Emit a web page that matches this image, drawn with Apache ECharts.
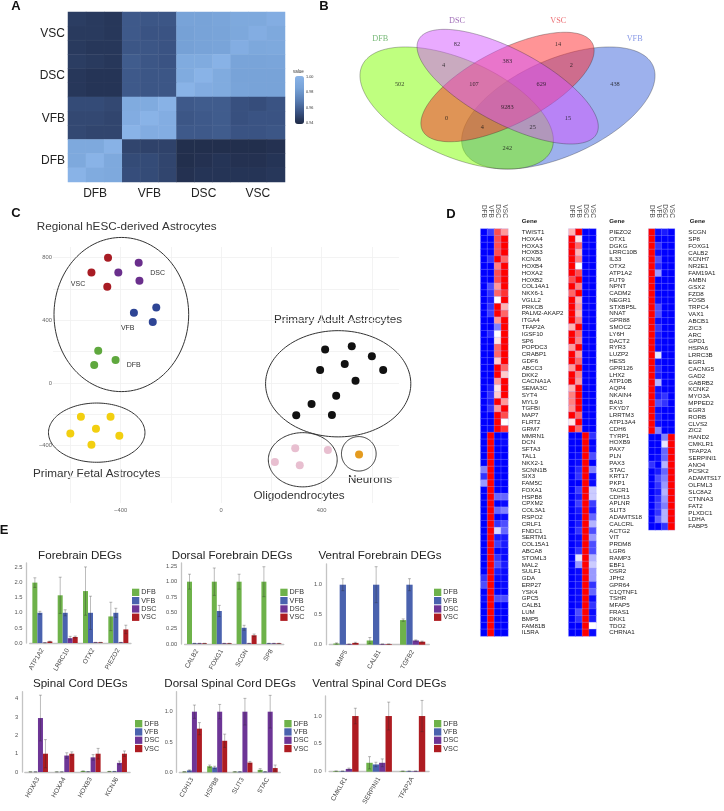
<!DOCTYPE html>
<html>
<head>
<meta charset="utf-8">
<script src="https://cdn.jsdelivr.net/npm/echarts@6/dist/echarts.min.js"></script>
<style>html,body{margin:0;padding:0;background:#fff}#main{width:724px;height:811px}</style>
</head>
<body>
<div id="main"></div>
<script>
var FONT = '"Liberation Sans", Arial, sans-serif';
var SERIF = '"Liberation Serif", serif';

// A: correlation heatmap, rows listed top to bottom
var corrCats = ['', 'DFB', '', '', 'VFB', '', '', 'DSC', '', '', 'VSC', ''];
var corrRowCats = ['', 'DFB', '', '', 'VFB', '', '', 'DSC', '', '', 'VSC', ''];
var corrValues = [
    [.947, .946, .945, .957, .956, .956, .985, .985, .987, .990, .990, .994],
    [.946, .946, .945, .957, .955, .955, .984, .985, .986, .989, .994, .990],
    [.946, .945, .945, .956, .956, .955, .984, .985, .986, .994, .989, .990],
    [.947, .946, .945, .958, .956, .955, .992, .992, .998, .986, .986, .987],
    [.945, .944, .944, .957, .956, .956, .992, .999, .992, .985, .985, .985],
    [.945, .944, .944, .957, .956, .956, .999, .993, .992, .986, .985, .985],
    [.952, .952, .951, .992, .992, .998, .957, .958, .958, .954, .953, .955],
    [.951, .951, .950, .993, .999, .994, .956, .957, .958, .954, .955, .955],
    [.951, .950, .950, .999, .993, .994, .957, .957, .958, .955, .955, .956],
    [.990, .990, .998, .950, .949, .949, .942, .942, .942, .942, .942, .943],
    [.990, .999, .990, .952, .952, .950, .942, .943, .944, .943, .943, .944],
    [.999, .992, .990, .953, .952, .950, .943, .944, .944, .944, .944, .945]
];
var corrTicks = ['1.00', '0.98', '0.96', '0.94'];

// B: venn
var vennNames = ['DFB', 'DSC', 'VSC', 'VFB'];
var vennCounts = [502, 82, 14, 438, 4, 383, 2, 107, 629, 0, 9283, 15, 4, 25, 242];

// C: MDS points
var vscX = [-450, -516, -453], vscY = [800, 706, 614];
var dscX = [-328, -409, -325], dscY = [768, 706, 653];
var vfbX = [-347, -258, -272], vfbY = [448, 482, 390];
var dfbX = [-489, -420, -505], dfbY = [205, 147, 115];
var fetalX = [-558, -440, -498, -600, -405, -516], fetalY = [-215, -215, -292, -322, -337, -394];
var adultX = [414, 520, 600, 492, 394, 645, 535, 458, 360, 299, 441];
var adultY = [213, 235, 171, 122, 83, 83, 15, -81, -134, -206, -204];
var oligoX = [295, 425, 214, 313], oligoY = [-417, -428, -504, -525];
var neuronX = [549], neuronY = [-456];

// D: gene lists and scaled expression (DFB, VFB, DSC, VSC), 0 blue .5 white 1 red
var heatCols = ['DFB', 'VFB', 'DSC', 'VSC'];
var genes1 = ['TWIST1', 'HOXA4', 'HOXA3', 'HOXB3', 'KCNJ6', 'HOXB4', 'HOXA2', 'HOXB2', 'COL14A1', 'NKX6-1', 'VGLL2', 'PRKCB', 'PALM2-AKAP2', 'ITGA4', 'TFAP2A', 'IGSF10', 'SP6', 'POPDC3', 'CRABP1', 'GDF6', 'ABCC3', 'DKK2', 'CACNA1A', 'SEMA3C', 'SYT4', 'MYL9', 'TGFBI', 'MAP7', 'FLRT2', 'GRM7', 'MMRN1', 'DCN', 'SFTA3', 'TAL1', 'NKX2-1', 'SCNN1B', 'SIX3', 'FAM5C', 'FOXA1', 'HSPB8', 'CPXM2', 'COL3A1', 'RSPO2', 'CRLF1', 'FNDC1', 'SERTM1', 'COL15A1', 'ABCA8', 'STOML3', 'MAL2', 'SULF1', 'GDA', 'ERP27', 'YSK4', 'GPC5', 'CALB1', 'LUM', 'BMP5', 'FAM81B', 'IL5RA'];
var heat1 = [
    [0, .12, .85, .7], [0, 0, .85, 1], [0, 0, .85, 1], [0, 0, .85, 1], [0, .1, 1, .8], [0, 0, .75, 1], [0, 0, .85, 1], [0, 0, .85, 1], [0, .15, .7, 1], [0, .1, .8, .9],
    [0, .05, .5, 1], [0, .1, 1, .65], [0, .12, 1, .8], [0, 0, .7, 1], [0, 0, .25, 1], [0, .08, .5, 1], [0, 0, .55, 1], [0, 0, .8, 1], [0, 0, .8, 1], [0, 0, .6, 1],
    [0, 0, 1, .8], [0, 0, 1, .6], [0, 0, .7, 1], [0, .05, .55, 1], [0, .1, .6, 1], [0, .05, 1, .7], [0, .1, .7, 1], [0, 0, 1, .85], [0, 0, 1, .5], [0, .02, 1, .9],
    [0, 1, 0, 0], [0, 1, 0, .02], [0, 1, 0, 0], [0, 1, 0, 0], [0, 1, 0, 0], [.25, 1, 0, 0], [.1, 1, 0, 0], [.3, 1, 0, 0], [0, 1, 0, 0], [0, 1, .2, .2],
    [0, 1, 0, .02], [0, 1, .2, .25], [0, 1, 0, .02], [0, 1, .1, .15], [0, 1, .42, .2], [0, 1, .05, .05], [0, 1, .12, .05], [0, 1, 0, .02], [0, 1, .1, .02], [0, 1, .15, .05],
    [0, 1, .05, .02], [.1, 1, .02, .02], [.15, 1, 0, .02], [0, 1, 0, 0], [.02, 1, .15, .15], [0, 1, 0, 0], [0, 1, 0, 0], [0, 1, 0, 0], [0, 1, 0, 0], [0, 1, 0, 0]
];
var genes2 = ['PIEZO2', 'OTX1', 'DGKG', 'LRRC10B', 'IL33', 'OTX2', 'ATP1A2', 'FUT9', 'NPNT', 'CADM2', 'NEGR1', 'STXBP5L', 'NNAT', 'GPR88', 'SMOC2', 'LY6H', 'DACT2', 'RYR3', 'LUZP2', 'HES5', 'GPR126', 'LHX2', 'ATP10B', 'AQP4', 'NKAIN4', 'BAI3', 'FXYD7', 'LRRTM3', 'ATP13A4', 'CDH6', 'TYRP1', 'HOXB9', 'PAX7', 'PLN', 'PAX3', 'STAC', 'KRT17', 'PKP1', 'TACR1', 'CDH13', 'APLNR', 'SLIT3', 'ADAMTS18', 'CALCRL', 'ACTG2', 'VIT', 'PRDM8', 'LGR6', 'RAMP3', 'EBF1', 'OSR2', 'JPH2', 'GPR64', 'C1QTNF1', 'TSHR', 'MFAP5', 'FRAS1', 'DKK1', 'TDO2', 'CHRNA1'];
var heat2 = [
    [.65, 1, 0, 0], [1, .55, 0, 0], [1, .8, 0, 0], [1, .65, 0, 0], [1, .75, 0, 0], [1, .5, 0, 0], [1, .85, 0, 0], [.85, 1, 0, 0], [1, .75, 0, 0], [.8, 1, 0, 0],
    [1, .65, 0, 0], [1, .7, 0, 0], [1, .65, 0, 0], [1, .75, 0, 0], [.65, 1, 0, 0], [1, .8, 0, 0], [1, .75, 0, 0], [.7, 1, 0, 0], [1, .7, 0, 0], [1, .8, 0, 0],
    [.7, 1, 0, 0], [1, .75, 0, 0], [1, .7, 0, 0], [.65, 1, 0, 0], [.75, 1, 0, 0], [.75, 1, 0, 0], [.72, 1, 0, 0], [1, .8, 0, 0], [.55, 1, 0, 0], [1, .8, 0, 0],
    [0, 0, 1, .1], [0, 0, 1, 0], [0, 0, 1, .02], [0, .02, 1, .15], [0, .02, 1, 0], [0, .08, 1, .25], [0, .1, 1, .02], [0, 0, 1, .02], [0, .12, 1, .4], [0, .05, 1, .4],
    [0, .12, 1, .12], [0, .05, 1, .05], [0, .02, 1, .2], [0, .05, 1, .35], [0, .1, 1, .15], [0, .02, 1, .3], [0, .03, 1, .15], [0, .1, 1, .15], [0, .45, 1, .35], [0, .3, 1, .4],
    [0, .02, 1, .3], [0, .02, 1, .3], [0, .03, 1, .1], [0, .02, 1, .2], [0, .02, 1, .02], [0, .02, 1, .1], [0, .15, 1, .02], [0, .1, 1, .05], [0, 0, 1, .5], [0, 0, 1, .02]
];
var genes3 = ['SCGN', 'SP8', 'FOXG1', 'CALB2', 'KCNH7', 'NR2E1', 'FAM19A1', 'AMBN', 'GSX2', 'FZD8', 'FOSB', 'TRPC4', 'VAX1', 'ABCB1', 'ZIC3', 'ARC', 'GPD1', 'HSPA6', 'LRRC3B', 'EGR1', 'CACNG5', 'GAD2', 'GABRB2', 'KCNK2', 'MYO3A', 'MPPED2', 'EGR3', 'RORB', 'CLVS2', 'ZIC2', 'HAND2', 'CMKLR1', 'TFAP2A', 'SERPINI1', 'ANO4', 'PCSK2', 'ADAMTS17', 'OLFML3', 'SLC8A2', 'CTNNA3', 'FAT2', 'PLXDC1', 'LDHA', 'FABP5'];
var heat3 = [
    [1, .02, .05, 0], [1, 0, 0, 0], [1, .1, 0, 0], [1, .02, 0, 0], [1, .15, 0, 0], [1, .08, 0, 0], [1, .3, 0, 0], [1, 0, 0, 0], [1, 0, 0, 0], [1, 0, 0, 0],
    [1, .02, 0, 0], [1, .15, 0, 0], [1, .15, 0, 0], [1, .02, 0, 0], [1, .1, 0, 0], [1, .05, 0, 0], [1, .02, 0, 0], [1, .02, 0, 0], [1, .45, 0, 0], [1, .02, 0, 0],
    [1, .08, 0, 0], [1, .05, 0, 0], [1, .35, 0, 0], [1, .03, 0, 0], [1, .05, .1, 0], [1, .15, .1, 0], [1, .02, 0, 0], [1, .05, 0, 0], [1, .02, 0, 0], [1, .25, 0, 0],
    [0, 0, .25, 1], [0, 0, .45, 1], [0, 0, .2, 1], [0, .02, .2, 1], [.1, 0, .35, 1], [0, .05, .2, 1], [0, .15, .25, 1], [0, .1, .3, 1], [0, .05, .35, 1], [0, .1, .3, 1],
    [0, .12, .25, 1], [0, .1, .35, 1], [0, .2, .35, 1], [0, 0, .1, 1]
];

// E: bars, one row per condition (DFB, VFB, DSC, VSC), errors are half widths
var forebrainGenes = ['ATP1A2', 'LRRC10', 'OTX2', 'PIEZO2'];
var forebrainVals = [[2, 1.58, 1.72, .88], [1, 1, 1, 1], [.01, .16, .02, .02], [.05, .2, .02, .45]];
var forebrainErr = [[.16, .6, .8, .47], [.05, .1, .55, .15], [0, .06, 0, 0], [.01, .03, 0, .14]];
var dorsalFbGenes = ['CALB2', 'FOXG1', 'SCGN', 'SP8'];
var dorsalFbVals = [[1, 1, 1, 1], [.01, .53, .26, .01], [.01, .01, .01, .01], [.01, .01, .14, .01]];
var dorsalFbErr = [[.12, .22, .12, .24], [0, .09, .04, 0], [0, 0, 0, 0], [0, 0, .02, 0]];
var ventralFbGenes = ['BMP5', 'CALB1', 'TGFB2'];
var ventralFbVals = [[.02, .07, .41], [1, 1, 1], [.01, .01, .07], [.03, .01, .05]];
var ventralFbErr = [[.01, .05, .02], [.1, .3, .1], [0, 0, .01], [.01, 0, .01]];
var spinalGenes = ['HOXA3', 'HOXA4', 'HOXB3', 'KCNJ6'];
var spinalVals = [[.01, .01, .05, .03], [.01, .01, .02, .03], [2.95, .9, .8, .5], [1, 1, 1, 1]];
var spinalErr = [[0, 0, .01, 0], [0, 0, 0, 0], [1.25, .15, .15, .1], [.77, .1, .29, .15]];
var dorsalScGenes = ['CDH13', 'HSPB8', 'SLIT3', 'STAC'];
var dorsalScVals = [[.01, .1, .01, .04], [.03, .08, .01, .01], [1, 1, 1, 1], [.72, .52, .16, .07]];
var dorsalScErr = [[0, .02, 0, .02], [.01, .02, 0, 0], [.11, .12, .22, .27], [.1, .11, .02, .05]];
var ventralScGenes = ['CMKLR1', 'SERPINI1', 'TFAP2A'];
var ventralScVals = [[.01, .16, .01], [.01, .13, .01], [.05, .16, .01], [1, 1, 1]];
var ventralScErr = [[0, .11, 0], [0, .04, 0], [.015, .07, 0], [.14, .25, .28]];
var barColors = ['#6eb24a', '#4a62ae', '#6d3596', '#ae1c22'];

var grid = [], xAxis = [], yAxis = [], series = [], legend = [], visualMap = [], graphic = [];

function addText(text, x, y, size, color, align, weight, family) {
    graphic.push({
        type: 'text', x: x, y: y, silent: true,
        style: {
            text: text, fontSize: size, fill: color || '#222', align: align || 'center', verticalAlign: 'middle',
            fontWeight: weight || 'normal', fontFamily: family || FONT
        }
    });
}

function ellipseItem(stroke, fills) {
    return function (params, api) {
        var cx = api.value(0), cy = api.value(1), a = api.value(2), b = api.value(3), t = api.value(4) * Math.PI / 180;
        var pts = [];
        for (var i = 0; i < 140; i++) {
            var s = i / 140 * Math.PI * 2;
            pts.push(api.coord([
                cx + a * Math.cos(s) * Math.cos(t) - b * Math.sin(s) * Math.sin(t),
                cy + a * Math.cos(s) * Math.sin(t) + b * Math.sin(s) * Math.cos(t)
            ]));
        }
        return {
            type: 'polygon', shape: {points: pts},
            style: {fill: fills ? fills[params.dataIndex] : 'none', stroke: stroke, lineWidth: fills ? .6 : 1}
        };
    };
}

// ---- A
grid.push({left: 68, top: 12, width: 217, height: 170});
xAxis.push({
    type: 'category', gridIndex: 0, data: corrCats, axisLine: {show: false}, axisTick: {show: false},
    axisLabel: {interval: 0, fontSize: 12, color: '#222', margin: 6, fontFamily: FONT}
});
yAxis.push({
    type: 'category', gridIndex: 0, data: corrRowCats, axisLine: {show: false}, axisTick: {show: false},
    axisLabel: {interval: 0, fontSize: 12, color: '#222', margin: 3, fontFamily: FONT}
});
var corrData = [];
corrValues.forEach(function (row, r) {
    row.forEach(function (v, c) { corrData.push([c, 11 - r, v]); });
});
series.push({
    type: 'heatmap', xAxisIndex: 0, yAxisIndex: 0, data: corrData, silent: true,
    itemStyle: {borderColor: 'rgba(255,255,255,.05)', borderWidth: .5}
});
visualMap.push({
    type: 'continuous', seriesIndex: 0, min: .94, max: 1, dimension: 2, show: true, left: 295, top: 76,
    itemWidth: 9, itemHeight: 48, text: null, calculable: false, hoverLink: false, padding: 0,
    inRange: {color: ['#1e2945', '#3a5383', '#5a7fb5', '#78a3d8', '#8ab4e8']}, textStyle: {fontSize: 1, color: 'transparent'}
});
addText('value', 293, 72, 4.5, '#333', 'left');
corrTicks.forEach(function (t, i) { addText(t, 306, 77.3 + i * 15.1, 3.8, '#333', 'left'); });

// ---- B
var venn = grid.length;
grid.push({left: 340, top: 0, width: 384, height: 200});
xAxis.push({type: 'value', gridIndex: venn, min: 0, max: 1152, show: false});
yAxis.push({type: 'value', gridIndex: venn, min: 0, max: 600, inverse: true, show: false});
series.push({
    type: 'custom', xAxisIndex: venn, yAxisIndex: venn, silent: true, clip: false, z: 2,
    renderItem: ellipseItem('rgba(40,40,40,.55)', ['rgba(60,100,220,.5)', 'rgba(127,255,0,.5)', 'rgba(255,42,46,.5)', 'rgba(211,85,255,.5)']),
    data: [[655, 324, 311, 145, -24], [350, 324, 311, 145, 24], [502.5, 261, 286.5, 111.5, -27.2], [503, 260, 302, 111, 27.9]]
});
var vennCountPos = [[179, 254], [351, 133], [654, 133], [825, 254], [311, 197], [502, 184], [694, 197], [402, 254], [604, 254], [320, 356], [502, 323], [684, 356], [427, 382], [578, 382], [502, 445]];
series.push({
    type: 'scatter', xAxisIndex: venn, yAxisIndex: venn, silent: true, symbolSize: 0, z: 3,
    data: vennCounts.map(function (c, i) { return {value: vennCountPos[i], name: String(c)}; }),
    label: {show: true, position: 'inside', formatter: '{b}', fontSize: 6.3, color: '#111', fontFamily: SERIF}
});
var vennNamePos = [[121, 118], [351, 62], [655, 62], [884, 118]];
var vennNameColors = ['#55a855', '#8b4ca8', '#e64a50', '#6a7fe0'];
series.push({
    type: 'scatter', xAxisIndex: venn, yAxisIndex: venn, silent: true, symbolSize: 0, z: 3,
    data: vennNames.map(function (n, i) {
        return {value: vennNamePos[i], name: n, label: {color: vennNameColors[i]}};
    }),
    label: {show: true, position: 'inside', formatter: '{b}', fontSize: 8.2, fontFamily: SERIF}
});

// ---- C
var mds = grid.length;
grid.push({left: 53, top: 247, width: 346, height: 256});
xAxis.push({
    type: 'value', gridIndex: mds, min: -669, max: 708, axisLine: {show: false},
    axisTick: {show: false, customValues: [-600, -400, -200, 0, 200, 400, 600]},
    splitLine: {show: true, lineStyle: {color: '#f0f0f0', width: .8}},
    axisLabel: {
        customValues: [-400, 0, 400], fontSize: 5.8, color: '#666', margin: 4, fontFamily: FONT,
        formatter: function (v) { return String(v).replace('-', '\u2212'); }
    }
});
yAxis.push({
    type: 'value', gridIndex: mds, min: -766, max: 868, axisLine: {show: false},
    axisTick: {show: false, customValues: [-600, -400, -200, 0, 200, 400, 600, 800]},
    splitLine: {show: true, lineStyle: {color: '#f0f0f0', width: .8}},
    axisLabel: {
        customValues: [-400, 0, 400, 800], fontSize: 5.8, color: '#666', margin: 1, fontFamily: FONT,
        formatter: function (v) { return String(v).replace('-', '\u2212'); }
    }
});
series.push({
    type: 'custom', xAxisIndex: mds, yAxisIndex: mds, silent: true, clip: false, z: 2,
    renderItem: ellipseItem('#333'),
    data: [[-397, 437, 268, 492, 0], [-495, -317, 192, 189, 0], [466, -5, 289, 339, 0], [325, -490, 137, 173, 0], [548, -452, 69, 110, 0]]
});
[
    [vscX, vscY, '#a81c24'], [dscX, dscY, '#6a2f8c'], [vfbX, vfbY, '#2e4595'], [dfbX, dfbY, '#5fa83e'],
    [fetalX, fetalY, '#f2cf10'], [adultX, adultY, '#111111'], [oligoX, oligoY, '#e8bfd0'], [neuronX, neuronY, '#e49b1f']
].forEach(function (g) {
    series.push({
        type: 'scatter', xAxisIndex: mds, yAxisIndex: mds, silent: true, symbolSize: 8, z: 3,
        itemStyle: {color: g[2], opacity: 1},
        data: g[0].map(function (x, i) { return [x, g[1][i]]; })
    });
});
addText('Regional hESC-derived Astrocytes', 126.7, 227, 11.7, '#333');
addText('Primary Adult Astrocytes', 338, 320, 11.7, '#333');
addText('Primary Fetal Astrocytes', 96.7, 473.5, 11.7, '#333');
addText('Oligodendrocytes', 299, 495.7, 11.7, '#333');
addText('Neurons', 370, 479.3, 11.7, '#333');
addText('VSC', 78, 284.3, 7, '#333');
addText('DSC', 157.7, 273.3, 7, '#333');
addText('VFB', 127.7, 327.7, 7, '#333');
addText('DFB', 133.7, 365.3, 7, '#333');

// ---- D
function addHeat(left, height, genes, rows, geneX) {
    var g = grid.length;
    grid.push({left: left, top: 228.9, width: 27.3, height: height});
    xAxis.push({
        type: 'category', gridIndex: g, data: heatCols, position: 'top', axisLine: {show: false}, axisTick: {show: false},
        axisLabel: {interval: 0, rotate: 90, fontSize: 6.5, color: '#555', margin: 11, fontFamily: FONT}
    });
    yAxis.push({
        type: 'category', gridIndex: g, data: genes, inverse: true, position: 'right', axisLine: {show: false}, axisTick: {show: false},
        axisLabel: {interval: 0, fontSize: 6.2, color: '#222', margin: geneX - left - 27.3, fontFamily: FONT}
    });
    var data = [];
    rows.forEach(function (row, r) {
        row.forEach(function (v, c) { data.push([c, r, v]); });
    });
    visualMap.push({
        type: 'continuous', seriesIndex: series.length, min: 0, max: 1, dimension: 2, show: false,
        inRange: {color: ['#0000ff', '#ffffff', '#ff0000']}
    });
    series.push({
        type: 'heatmap', xAxisIndex: g, yAxisIndex: g, data: data, silent: true,
        itemStyle: {borderColor: 'rgba(170,170,255,.55)', borderWidth: .5}
    });
    addText('Gene', geneX, 221.7, 6.2, '#222', 'left', 'bold');
}
addHeat(480.7, 407.2, genes1, heat1, 521.7);
addHeat(568.7, 407.2, genes2, heat2, 609.3);
addHeat(648.7, 301, genes3, heat3, 689.7);

// ---- E
function addBars(title, titleX, titleY, box, yMax, yTicks, yDigits, genes, vals, errs, barW, legendX, legendY) {
    var g = grid.length;
    grid.push({left: box.left, top: box.top, width: box.width, height: box.height});
    addText(title, titleX, titleY, 11.6, '#222');
    xAxis.push({
        type: 'category', gridIndex: g, data: genes, offset: 3,
        axisLine: {show: true, lineStyle: {color: '#c4c4c4', width: 1.3}}, axisTick: {show: false},
        axisLabel: {interval: 0, rotate: 60, fontSize: 6.5, color: '#444', margin: 3, fontFamily: FONT}
    });
    yAxis.push({
        type: 'value', gridIndex: g, min: 0, max: yMax, offset: box.axisGap, splitLine: {show: false},
        axisLine: {show: true, lineStyle: {color: '#c4c4c4', width: 1.3}},
        axisTick: {show: false, customValues: yTicks},
        axisLabel: {
            customValues: yTicks, fontSize: 5.8, color: '#555', margin: 4, fontFamily: FONT,
            formatter: function (v) { return v.toFixed(yDigits); }
        }
    });
    heatCols.forEach(function (name, k) {
        series.push({
            type: 'bar', name: name, xAxisIndex: g, yAxisIndex: g, data: vals[k], barWidth: barW, barGap: 0, silent: true,
            itemStyle: {color: barColors[k]}
        });
    });
    // error bars sit on top of the bars, offset to each bar's slot
    heatCols.forEach(function (name, k) {
        series.push({
            type: 'custom', xAxisIndex: g, yAxisIndex: g, silent: true, clip: false, z: 4,
            data: vals[k].map(function (v, i) { return [i, Math.max(v - errs[k][i], 0), v + errs[k][i]]; }),
            renderItem: function (params, api) {
                var lo = api.coord([api.value(0), api.value(1)]);
                var hi = api.coord([api.value(0), api.value(2)]);
                var x = lo[0] + (k - 1.5) * barW;
                var st = {stroke: 'rgba(40,40,40,.45)', lineWidth: .7};
                return {
                    type: 'group', children: [
                        {type: 'line', shape: {x1: x, y1: lo[1], x2: x, y2: hi[1]}, style: st},
                        {type: 'line', shape: {x1: x - 1.5, y1: lo[1], x2: x + 1.5, y2: lo[1]}, style: st},
                        {type: 'line', shape: {x1: x - 1.5, y1: hi[1], x2: x + 1.5, y2: hi[1]}, style: st}
                    ]
                };
            }
        });
    });
    legend.push({
        data: heatCols.slice(), orient: 'vertical', left: legendX, top: legendY, padding: 0, itemWidth: 7.3, itemHeight: 7.3,
        itemGap: 1, icon: 'rect', selectedMode: false, itemStyle: {opacity: 1},
        textStyle: {fontSize: 7.2, color: '#333', padding: [0, 0, 0, -3], lineHeight: 7.3, fontFamily: FONT}
    });
}
addBars('Forebrain DEGs', 80, 555.7, {left: 29.7, top: 563, width: 101.3, height: 80, axisGap: 3.2}, 2.65, [0, .5, 1, 1.5, 2, 2.5], 1,
    forebrainGenes, forebrainVals, forebrainErr, 5, 132, 588.7);
addBars('Dorsal Forebrain DEGs', 232, 555.7, {left: 184.6, top: 563, width: 99.2, height: 81, axisGap: 3.3}, 1.3, [0, .25, .5, .75, 1, 1.25], 2,
    dorsalFbGenes, dorsalFbVals, dorsalFbErr, 5, 280.3, 588.7);
addBars('Ventral Forebrain DEGs', 380, 555.7, {left: 329.3, top: 564, width: 100, height: 80.7, axisGap: 3.3}, 1.345, [0, .5, 1], 1,
    ventralFbGenes, ventralFbVals, ventralFbErr, 6.3, 434, 588.7);
addBars('Spinal Cord DEGs', 80.3, 684, {left: 24.8, top: 691.7, width: 105.3, height: 80.3, axisGap: 2.5}, 4.39, [0, 1, 2, 3, 4], 0,
    spinalGenes, spinalVals, spinalErr, 5, 135, 720);
addBars('Dorsal Spinal Cord DEGs', 230, 684, {left: 179.3, top: 691.7, width: 101, height: 80.6, axisGap: 2.6}, 1.33, [0, .5, 1], 1,
    dorsalScGenes, dorsalScVals, dorsalScErr, 5, 284.3, 720);
addBars('Ventral Spinal Cord DEGs', 379.3, 684, {left: 329.1, top: 696, width: 100, height: 75.7, axisGap: 3.4}, 1.36, [0, .5, 1], 1,
    ventralScGenes, ventralScVals, ventralScErr, 6.4, 434, 720);

// panel letters
addText('A', 16, 6.7, 13, '#111', 'center', 'bold');
addText('B', 324, 6.7, 13, '#111', 'center', 'bold');
addText('C', 16, 213.7, 13, '#111', 'center', 'bold');
addText('D', 451, 214, 13, '#111', 'center', 'bold');
addText('E', 4, 530, 13, '#111', 'center', 'bold');

var chart = echarts.init(document.getElementById('main'));
chart.setOption({
    animation: false,
    backgroundColor: '#fff',
    textStyle: {fontFamily: FONT},
    grid: grid,
    xAxis: xAxis,
    yAxis: yAxis,
    visualMap: visualMap,
    legend: legend,
    series: series,
    graphic: graphic
});
</script>
</body>
</html>
